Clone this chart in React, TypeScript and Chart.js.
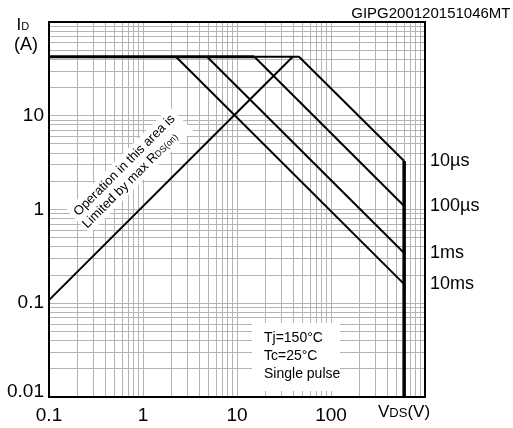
import React, { useEffect, useRef } from 'react';
import { Chart, registerables } from 'chart.js';

Chart.register(...registerables);

const FONT = '"Liberation Sans", Arial, Helvetica, sans-serif';

// Axis decades and tick labels
const xDecades = [0.1, 1, 10, 100, 1000];
const yDecades = [0.01, 0.1, 1, 10, 100];
const xTickLabels = ['0.1', '1', '10', '100', ''];
const yTickLabels = ['0.01', '0.1', '1', '10', ''];
const minorSteps = [1, 2, 3, 4, 5, 6, 7, 8, 9];

// Limit lines (VDS in V, ID in A)
const rdsLimitV = [0.1, 39.2];
const rdsLimitI = [0.108, 42.6];
const currentLimitV = [0.1, 15.3];
const currentLimitI = [42.6, 42.6];
const pulseLimitI = 42.6;
const vdsMax = 600;
const vdsMaxV = [600, 600];
const vdsMaxI = [3.29, 0.01];

// Single-pulse lines
const pulseNames = ['10µs', '100µs', '1ms', '10ms'];
const pulseStartV = [15.3, 15.3, 4.8, 2.24];
const pulseCornerV = [45.7, 15.3, 4.8, 2.24];
const pulseEndI = [3.29, 1.09, 0.343, 0.16];

const conditions = ['Tj=150°C', 'Tc=25°C', 'Single pulse'];
const figureCode = 'GIPG200120151046MT';

const gridValues = (decades: number[]) => {
  const out: number[] = [];
  decades.forEach((d, i) => {
    if (i === decades.length - 1) out.push(d);
    else minorSteps.forEach((s) => out.push(+(d * s).toPrecision(6)));
  });
  return out;
};

const labelFor = (v: number, decades: number[], labels: string[]) => {
  const i = decades.findIndex((d) => Math.abs(v - d) / d < 1e-6);
  return i >= 0 ? labels[i] : '';
};

const pts = (xs: number[], ys: number[]) => xs.map((x, i) => ({ x, y: ys[i] }));

const annotPlugin = {
  id: 'annot',
  beforeDatasetsDraw(chart: any) {
    const { ctx } = chart;
    ctx.save();
    // conditions box
    ctx.fillStyle = '#fff';
    ctx.fillRect(252, 323, 88, 68);
    ctx.fillStyle = '#000';
    ctx.font = `14px ${FONT}`;
    ctx.textBaseline = 'alphabetic';
    ctx.textAlign = 'left';
    const baselines = [341.5, 360, 378.3];
    conditions.forEach((t, i) => ctx.fillText(t, 264, baselines[i]));

    // rotated note
    ctx.translate(78.5, 216.5);
    ctx.rotate(-Math.PI / 4);
    ctx.fillStyle = '#fff';
    ctx.fillRect(-4, -13, 146, 33);
    ctx.fillStyle = '#000';
    ctx.font = `13px ${FONT}`;
    ctx.fillText('Operation in this area is', 0, 0);
    const l2 = 'Limited by max R';
    ctx.fillText(l2, -2.4, 14.9);
    const w = ctx.measureText(l2).width;
    ctx.font = `9px ${FONT}`;
    ctx.fillText('DS(on)', -2.4 + w, 14.9);
    ctx.restore();
  },
  afterDraw(chart: any) {
    const { ctx, chartArea, scales } = chart;
    ctx.save();
    // top & right frame
    ctx.strokeStyle = '#000';
    ctx.lineWidth = 2;
    ctx.beginPath();
    ctx.moveTo(chartArea.left - 1, chartArea.top);
    ctx.lineTo(chartArea.right, chartArea.top);
    ctx.lineTo(chartArea.right, chartArea.bottom);
    ctx.stroke();

    ctx.fillStyle = '#000';
    // pulse labels
    ctx.font = `18px ${FONT}`;
    ctx.textBaseline = 'middle';
    ctx.textAlign = 'left';
    pulseNames.forEach((n, i) => {
      const y = scales.y.getPixelForValue(pulseEndI[i]);
      ctx.fillText(n, chartArea.right + 5, y);
    });

    ctx.textBaseline = 'alphabetic';
    // Y axis title
    ctx.font = `17px ${FONT}`;
    ctx.fillText('I', 16.5, 30);
    const wi = ctx.measureText('I').width;
    ctx.font = `11px ${FONT}`;
    ctx.fillText('D', 16.5 + wi, 30);
    ctx.font = `18px ${FONT}`;
    ctx.fillText('(A)', 14, 50);

    // X axis title
    let xx = 378;
    ctx.font = `17px ${FONT}`;
    ctx.fillText('V', xx, 417);
    xx += ctx.measureText('V').width;
    ctx.font = `13px ${FONT}`;
    ctx.fillText('DS', xx, 417);
    xx += ctx.measureText('DS').width;
    ctx.font = `17px ${FONT}`;
    ctx.fillText('(V)', xx, 417);

    // figure code
    ctx.font = `15px ${FONT}`;
    ctx.textAlign = 'right';
    ctx.fillText(figureCode, 510.5, 18.3);
    ctx.restore();
  },
};

export default function App() {
  const ref = useRef<HTMLCanvasElement>(null);

  useEffect(() => {
    const canvas = ref.current;
    if (!canvas) return;
    const lineBase = {
      showLine: true,
      pointRadius: 0,
      pointHoverRadius: 0,
      borderColor: '#000',
      backgroundColor: '#000',
      fill: false,
      tension: 0,
      borderCapStyle: 'butt',
      borderJoinStyle: 'miter',
    };
    const datasets: any[] = [
      { ...lineBase, label: 'RDS(on)', data: pts(rdsLimitV, rdsLimitI), borderWidth: 2 },
      { ...lineBase, label: 'ID max', data: pts(currentLimitV, currentLimitI), borderWidth: 3 },
      ...pulseNames.map((n, i) => ({
        ...lineBase,
        label: n,
        data: [
          { x: pulseStartV[i], y: pulseLimitI },
          { x: pulseCornerV[i], y: pulseLimitI },
          { x: vdsMax, y: pulseEndI[i] },
        ],
        borderWidth: 2,
      })),
      { ...lineBase, label: 'VDS max', data: pts(vdsMaxV, vdsMaxI), borderWidth: 3.5 },
    ];

    const chart = new Chart(canvas, {
      type: 'scatter',
      data: { datasets },
      options: {
        animation: false,
        responsive: false,
        devicePixelRatio: 1,
        layout: { padding: { top: 22, right: 88, left: 0, bottom: 0 } },
        plugins: { legend: { display: false }, tooltip: { enabled: false } },
        scales: {
          x: {
            type: 'logarithmic',
            min: 0.1,
            max: 1000,
            afterBuildTicks: (s: any) => {
              s.ticks = gridValues(xDecades).map((v) => ({ value: v }));
            },
            afterFit: (s: any) => {
              s.height = 31;
            },
            ticks: {
              autoSkip: false,
              maxRotation: 0,
              minRotation: 0,
              padding: 7,
              color: '#000',
              font: { family: FONT, size: 19 },
              callback: (v: any) => labelFor(Number(v), xDecades, xTickLabels),
            },
            grid: { color: '#b4b4b4', lineWidth: 1, drawTicks: false },
            border: { display: true, color: '#000', width: 2 },
          },
          y: {
            type: 'logarithmic',
            min: 0.01,
            max: 100,
            afterBuildTicks: (s: any) => {
              s.ticks = gridValues(yDecades).map((v) => ({ value: v }));
            },
            afterFit: (s: any) => {
              s.width = 49;
            },
            ticks: {
              autoSkip: false,
              padding: 5,
              color: '#000',
              font: (c: any) => ({
                family: FONT,
                size: 19,
                lineHeight: c.tick && Math.abs(c.tick.value - yDecades[0]) < 1e-9 ? '11px' : 1.2,
              }),
              callback: (v: any) => {
                const l = labelFor(Number(v), yDecades, yTickLabels);
                return l === yTickLabels[0] ? [l, ''] : l;
              },
            },
            grid: { color: '#b4b4b4', lineWidth: 1, drawTicks: false },
            border: { display: true, color: '#000', width: 2 },
          },
        },
      } as any,
      plugins: [annotPlugin],
    });
    return () => chart.destroy();
  }, []);

  return (
    <div style={{ position: 'absolute', left: 0, top: 0, width: 513, height: 428, background: '#fff' }}>
      <canvas ref={ref} width={513} height={428} style={{ display: 'block', width: 513, height: 428 }} />
    </div>
  );
}
